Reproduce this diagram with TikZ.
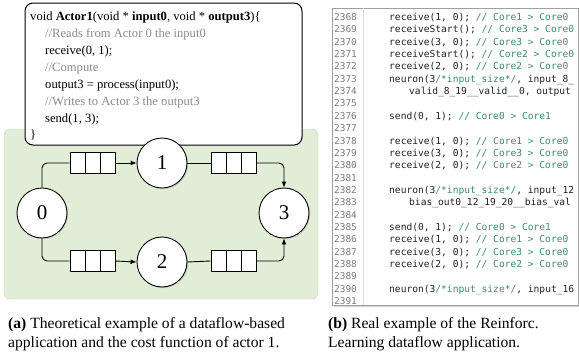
\documentclass[tikz,border=0pt]{standalone}
\usepackage{fontspec}
\setmainfont{Liberation Serif}
\newfontfamily\codefont{DejaVu Sans Mono}
\usetikzlibrary{shadows,arrows.meta,calc}
\definecolor{panelgreen}{HTML}{E1EDD7}
\definecolor{panelborder}{HTML}{C8D2C0}
\definecolor{cmtgray}{HTML}{8A8A8A}
\definecolor{cmtgreen}{HTML}{3F8A6A}
\definecolor{lnumgray}{HTML}{7A7A7A}
\definecolor{codeink}{HTML}{222222}
\tikzset{
  actor/.style={circle, draw, line width=0.9pt, fill=white, minimum size=50pt, inner sep=0pt,
    font=\fontsize{21}{21}\selectfont, drop shadow={shadow xshift=1.2pt, shadow yshift=-1.2pt, opacity=0.25}},
  queue/.style={draw, line width=0.9pt, fill=white, minimum width=45pt, minimum height=21pt, inner sep=0pt,
    path picture={\foreach \f in {0.3333,0.6667}{\draw[line width=0.9pt]
      ($(path picture bounding box.south west)!\f!(path picture bounding box.south east)$) --
      ($(path picture bounding box.north west)!\f!(path picture bounding box.north east)$);}}},
  flow/.style={line width=0.9pt, rounded corners=5pt},
  arr/.style={-{Latex[length=6pt,width=5pt]}},
  cline/.style={anchor=base west, inner sep=0pt, font=\fontsize{12.6}{14}\selectfont},
  cmt/.style={cline, text=cmtgray},
  lnum/.style={anchor=base west, inner sep=0pt, font=\codefont\fontsize{9.4}{11}\selectfont, text=lnumgray},
  src/.style={anchor=base west, inner sep=0pt, font=\codefont\fontsize{9.6}{11}\selectfont, text=codeink},
  capt/.style={anchor=base west, inner sep=0pt, font=\fontsize{15.6}{18}\selectfont}
}
\newcommand{\cg}[1]{\textcolor{cmtgreen}{#1}}
\begin{document}
\begin{tikzpicture}[x=1pt,y=-1pt]
\useasboundingbox (0,0) rectangle (579,356);

% ---------- left panel ----------
\draw[draw=panelborder, fill=panelgreen, rounded corners=6pt] (4,129) rectangle (318,299);

\draw[line width=1pt, fill=white, rounded corners=8pt] (25,3) rectangle (302,145);
\node[cline] (c1) at (30,20.5) {void \textbf{Actor1}(void * \textbf{input0}, void * \textbf{output3})\{};
\node[cmt]   (c2) at (45,37.5) {//Reads from Actor 0 the input0};
\node[cline] (c3) at (45,54.5) {receive(0, 1);};
\node[cmt]   (c4) at (45,71.5) {//Compute};
\node[cline] (c5) at (45,88.5) {output3 = process(input0);};
\node[cmt]   (c6) at (45,105.5) {//Writes to Actor 3 the output3};
\node[cline] (c7) at (45,122.5) {send(1, 3);};
\node[cline] (c8) at (30,138.5) {\}};

\node[actor] (n0) at (42,213) {0};
\node[actor] (n1) at (162,163) {1};
\node[actor] (n2) at (162,262) {2};
\node[actor] (n3) at (284,213) {3};

\node[queue] (q01) at (92.5,163) {};
\node[queue] (q13) at (233.5,163) {};
\node[queue] (q02) at (92.5,261) {};
\node[queue] (q23) at (233.5,261) {};

\draw[flow] (n0.north) |- (q01.west);
\draw[flow,arr] (q01.east) -- (n1.west);
\draw[flow] (n1.east) -- (q13.west);
\draw[flow,arr] (q13.east) -| (n3.north);
\draw[flow] (n0.south) |- (q02.west);
\draw[flow,arr] (q02.east) -- (n2.west);
\draw[flow] (n2.east) -- (q23.west);
\draw[flow,arr] (q23.east) -| (n3.south);

% ---------- right panel ----------
\draw[draw=gray!75, fill=white, drop shadow={shadow xshift=1.5pt, shadow yshift=-1.5pt, opacity=0.35}] (332,8) rectangle (578,305);
\draw[gray!25] (363,8) -- (363,305);
\begin{scope}
\clip (333,8) rectangle (577,305);
\foreach \n [count=\i from 0] in {2368,...,2391}{
  \node[lnum] at (334,{20.5+12.35*\i}) {\n};
}
\node[src] at (389,{20.5+12.35*0}) {receive(1, 0); \cg{// Core1 > Core0}};
\node[src] at (389,{20.5+12.35*1}) {receiveStart(); \cg{// Core3 > Core0}};
\node[src] at (389,{20.5+12.35*2}) {receive(3, 0); \cg{// Core3 > Core0}};
\node[src] at (389,{20.5+12.35*3}) {receiveStart(); \cg{// Core2 > Core0}};
\node[src] at (389,{20.5+12.35*4}) {receive(2, 0); \cg{// Core2 > Core0}};
\node[src] at (389,{20.5+12.35*5}) {neuron(3\cg{/*input\_size*/}, input\_8\_};
\node[src] at (409,{20.5+12.35*6}) {valid\_8\_19\_\_valid\_\_0, output};
\node[src] at (389,{20.5+12.35*8}) {send(0, 1); \cg{// Core0 > Core1}};
\node[src] at (389,{20.5+12.35*10}) {receive(1, 0); \cg{// Core1 > Core0}};
\node[src] at (389,{20.5+12.35*11}) {receive(3, 0); \cg{// Core3 > Core0}};
\node[src] at (389,{20.5+12.35*12}) {receive(2, 0); \cg{// Core2 > Core0}};
\node[src] at (389,{20.5+12.35*14}) {neuron(3\cg{/*input\_size*/}, input\_12};
\node[src] at (409,{20.5+12.35*15}) {bias\_out0\_12\_19\_20\_\_bias\_val};
\node[src] at (389,{20.5+12.35*17}) {send(0, 1); \cg{// Core0 > Core1}};
\node[src] at (389,{20.5+12.35*18}) {receive(1, 0); \cg{// Core1 > Core0}};
\node[src] at (389,{20.5+12.35*19}) {receive(3, 0); \cg{// Core3 > Core0}};
\node[src] at (389,{20.5+12.35*20}) {receive(2, 0); \cg{// Core2 > Core0}};
\node[src] at (389,{20.5+12.35*22}) {neuron(3\cg{/*input\_size*/}, input\_16};
\end{scope}

% ---------- captions ----------
\node[capt] (ca1) at (8,328) {\textbf{(a)} Theoretical example of a dataflow-based};
\node[capt] (ca2) at (8,347.5) {application and the cost function of actor 1.};
\node[capt] (cb1) at (328,328) {\textbf{(b)} Real example of the Reinforc.};
\node[capt] (cb2) at (328,347.5) {Learning dataflow application.};
\end{tikzpicture}
\end{document}
